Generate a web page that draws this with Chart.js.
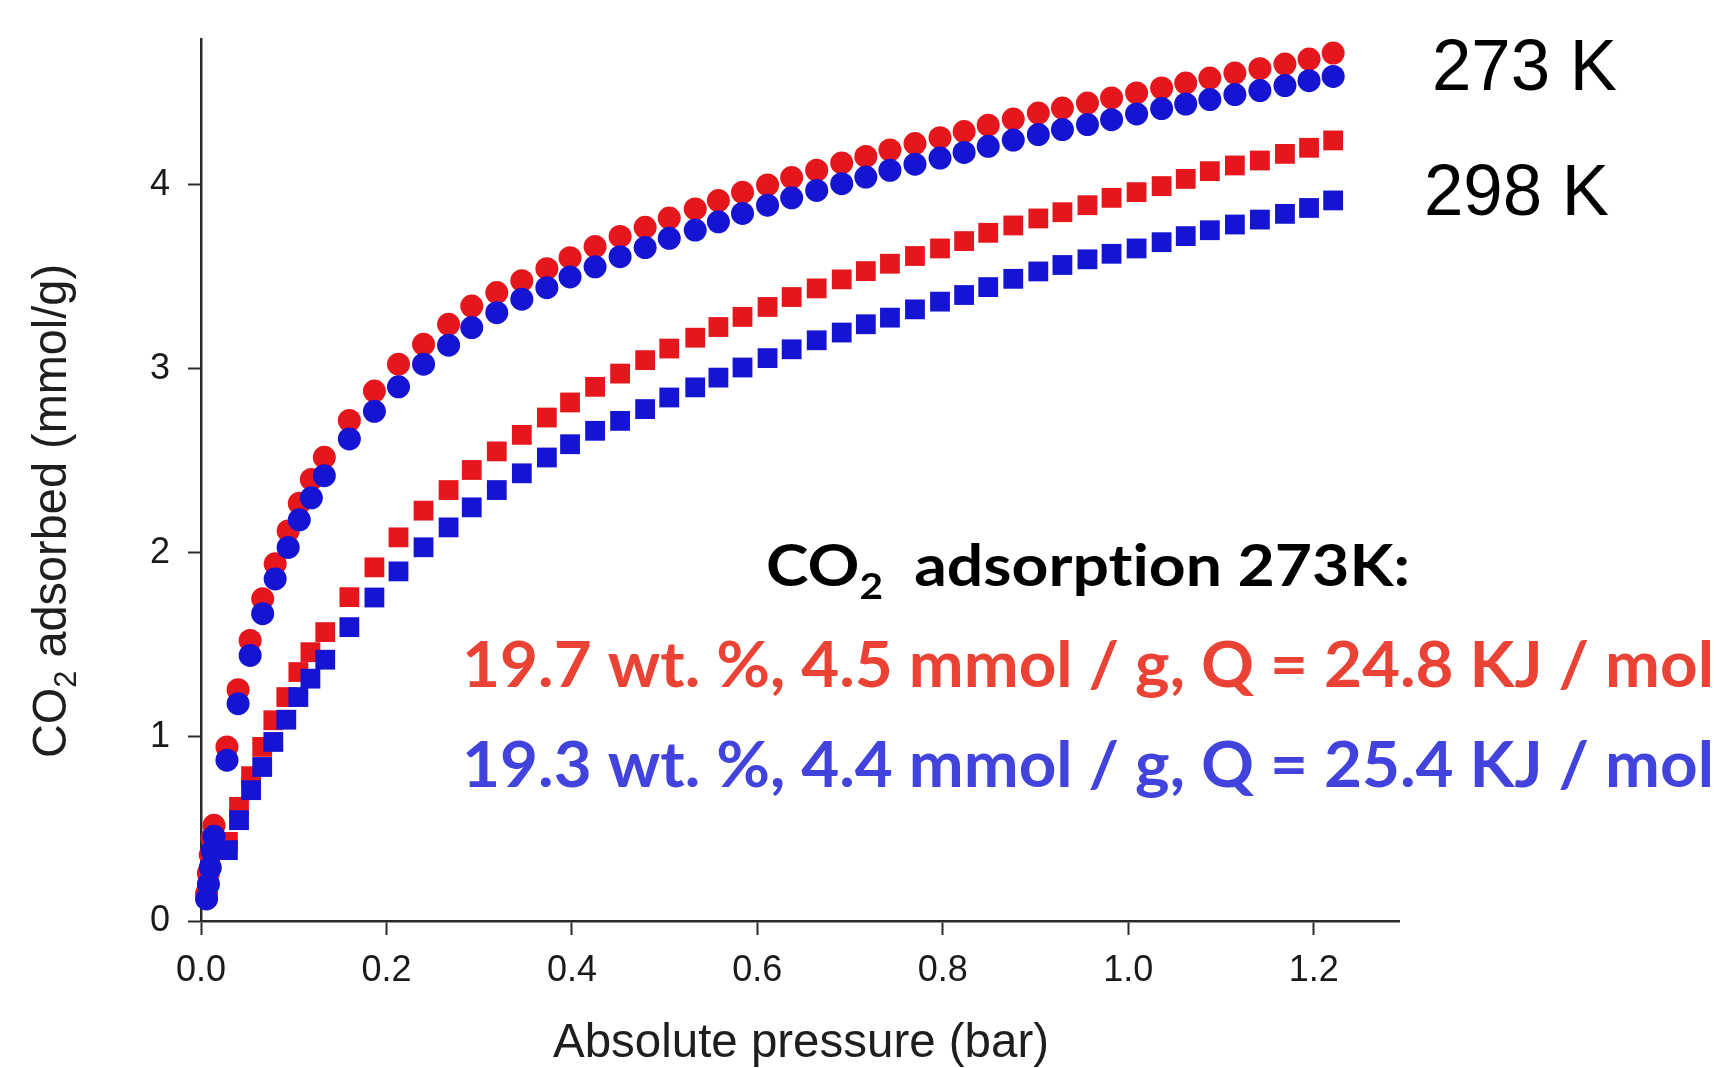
<!DOCTYPE html>
<html><head><meta charset="utf-8">
<script src="https://cdn.jsdelivr.net/npm/chart.js@4.4.1/dist/chart.umd.min.js"></script>
<style>html,body{margin:0;padding:0;background:#fff;overflow:hidden}</style></head>
<body><canvas id="c" width="1723" height="1068"></canvas>
<script>
// ---- data ----
const circlePressure = [0.006,0.008,0.010,0.012,0.014,0.028,0.040,0.053,0.0665,0.080,0.094,0.106,0.119,0.133,
  0.160,0.187,0.213,0.240,0.267,0.292,0.319,0.346,0.373,0.398,0.425,0.452,0.479,0.505,0.533,0.558,0.584,0.611,0.637,0.664,
  0.691,0.717,0.743,0.770,0.797,0.823,0.849,0.876,0.903,0.929,0.956,0.982,1.009,1.036,1.062,1.088,1.115,1.142,1.169,1.195,1.221];
const squarePressure = [0.029,0.041,0.054,0.066,0.078,0.092,0.105,0.118,0.134,
  0.160,0.187,0.213,0.240,0.267,0.292,0.319,0.346,0.373,0.398,0.425,0.452,0.479,0.505,0.533,0.558,0.584,0.611,0.637,0.664,
  0.691,0.717,0.743,0.770,0.797,0.823,0.849,0.876,0.903,0.929,0.956,0.982,1.009,1.036,1.062,1.088,1.115,1.142,1.169,1.195,1.221];
const red273K = [0.15,0.26,0.36,0.45,0.52,0.946,1.257,1.525,1.751,1.941,2.12,2.27,2.40,2.52,
  2.72,2.88,3.026,3.134,3.243,3.342,3.415,3.48,3.545,3.605,3.665,3.72,3.77,3.82,3.87,3.915,3.96,4.0,4.04,4.08,
  4.12,4.155,4.19,4.225,4.257,4.29,4.325,4.358,4.391,4.418,4.445,4.473,4.5,4.527,4.554,4.581,4.608,4.632,4.657,4.684,4.717];
const blue273K = [0.12,0.20,0.29,0.38,0.46,0.874,1.181,1.443,1.670,1.859,2.03,2.18,2.30,2.42,
  2.62,2.77,2.903,3.026,3.129,3.225,3.306,3.379,3.442,3.50,3.555,3.61,3.66,3.71,3.755,3.80,3.845,3.89,3.93,3.97,
  4.007,4.043,4.08,4.113,4.146,4.177,4.21,4.244,4.274,4.301,4.328,4.355,4.386,4.415,4.44,4.464,4.491,4.513,4.54,4.567,4.59];
const red298K = [0.43,0.62,0.787,0.946,1.091,1.217,1.353,1.461,1.570,
  1.760,1.922,2.085,2.230,2.342,2.451,2.552,2.642,2.736,2.818,2.903,2.975,3.048,3.111,3.170,3.228,3.283,3.337,3.391,3.438,
  3.487,3.532,3.572,3.614,3.655,3.695,3.740,3.78,3.818,3.852,3.890,3.930,3.961,3.994,4.033,4.075,4.106,4.133,4.169,4.202,4.242];
const blue298K = [0.385,0.548,0.711,0.837,0.973,1.094,1.217,1.317,1.420,
  1.597,1.758,1.90,2.031,2.139,2.248,2.342,2.433,2.519,2.591,2.664,2.718,2.782,2.845,2.90,2.953,3.008,3.059,3.107,3.156,
  3.198,3.243,3.279,3.324,3.366,3.402,3.445,3.49,3.53,3.565,3.596,3.626,3.655,3.689,3.722,3.754,3.785,3.812,3.843,3.875,3.916];
const xTicks = [0, 0.2, 0.4, 0.6, 0.8, 1.0, 1.2];
const yTicks = [0, 1, 2, 3, 4];
const tempLabels = ['273 K', '298 K'];
const titleText = ['CO', '2', '  adsorpt', 'ion 273K:'];
const redText = '19.7 wt. %, 4.5 mmol / g, Q = 24.8 KJ / mol';
const blueText = '19.3 wt. %, 4.4 mmol / g, Q = 25.4 KJ / mol';
const xTitle = 'Absolute pressure (bar)';
const yTitle = ['CO', '2', ' adsorbed (mmol/g)'];

const RED = '#E6171C', BLUE = '#1414D2';
const pts = (xs, ys) => xs.map((x, i) => ({x: x, y: ys[i]}));
const AX = 'Liberation Sans, Arial, sans-serif';

function drawParts(ctx, parts, left, baseline, targetW) {
  ctx.save();
  let w = 0;
  parts.forEach(p => { ctx.font = p.font; p.w = ctx.measureText(p.t).width; w += p.w; });
  const s = targetW / w;
  ctx.translate(left, baseline);
  ctx.scale(s, 1);
  let x = 0;
  parts.forEach(p => { ctx.font = p.font; ctx.fillStyle = p.color; ctx.textBaseline = 'alphabetic'; ctx.textAlign = 'left'; ctx.fillText(p.t, x, p.dy || 0); x += p.w; });
  ctx.restore();
}

const textPlugin = {
  id: 'texts',
  afterDraw(chart) {
    const ctx = chart.ctx;
    // temperature labels
    drawParts(ctx, [{t: tempLabels[0], font: '72px ' + AX, color: '#000'}], 1432, 90, 185);
    drawParts(ctx, [{t: tempLabels[1], font: '72px ' + AX, color: '#000'}], 1424, 215, 185);
    // bold annotation
    const B = 'Lato, "Open Sans", sans-serif';
    drawParts(ctx, [
      {t: titleText[0], font: 'bold 57px ' + B, color: '#000'},
      {t: titleText[1], font: 'bold 36px ' + B, color: '#000', dy: 13},
      {t: titleText[2], font: 'bold 57px ' + B, color: '#000'},
      {t: titleText[3], font: 'bold 57px ' + B, color: '#000'}], 766, 586, 644);
    drawParts(ctx, [{t: redText, font: 'bold 64px ' + B, color: '#EA4335'}], 462, 687, 1252);
    drawParts(ctx, [{t: blueText, font: 'bold 64px ' + B, color: '#4242DC'}], 462, 787, 1252);
    // x title
    drawParts(ctx, [{t: xTitle, font: '49px ' + AX, color: '#1e1e1e'}], 553, 1057, 496);
    // y title (rotated)
    ctx.save();
    ctx.translate(66, 511);
    ctx.rotate(-Math.PI / 2);
    drawParts(ctx, [
      {t: yTitle[0], font: '49px ' + AX, color: '#1e1e1e'},
      {t: yTitle[1], font: '32px ' + AX, color: '#1e1e1e', dy: 10},
      {t: yTitle[2], font: '49px ' + AX, color: '#1e1e1e'}], -247, 0, 494);
    ctx.restore();
  }
};

new Chart(document.getElementById('c'), {
  type: 'scatter',
  data: {
    datasets: [
      {label: 'blue 273 K', data: pts(circlePressure, blue273K), pointStyle: 'circle', pointRadius: 11.5, backgroundColor: BLUE, borderWidth: 0, order: 1},
      {label: 'red 273 K', data: pts(circlePressure, red273K), pointStyle: 'circle', pointRadius: 11.5, backgroundColor: RED, borderWidth: 0, order: 2},
      {label: 'blue 298 K', data: pts(squarePressure, blue298K), pointStyle: 'rect', pointRadius: 14, backgroundColor: BLUE, borderWidth: 0, order: 3},
      {label: 'red 298 K', data: pts(squarePressure, red298K), pointStyle: 'rect', pointRadius: 14, backgroundColor: RED, borderWidth: 0, order: 4}
    ]
  },
  options: {
    responsive: false, animation: false, events: [],
    clip: false,
    layout: {padding: {top: 38, right: 324, left: 0, bottom: 0}},
    plugins: {legend: {display: false}, tooltip: {enabled: false}},
    scales: {
      x: {
        type: 'linear', min: 0, max: 1.292,
        afterFit: s => { s.height = 147; },
        afterBuildTicks: s => { s.ticks = xTicks.map(v => ({value: v})); },
        border: {display: true, color: '#2a2a2a', width: 2.5},
        grid: {display: true, drawOnChartArea: false, drawTicks: true, tickLength: 14, tickColor: '#2a2a2a', tickWidth: 2},
        ticks: {autoSkip: false, maxRotation: 0, padding: 14, color: '#1a1a1a', font: {family: AX, size: 36}, callback: v => Number(v).toFixed(1)}
      },
      y: {
        type: 'linear', min: 0, max: 4.79,
        afterFit: s => { s.width = 201; },
        afterBuildTicks: s => { s.ticks = yTicks.map(v => ({value: v})); },
        border: {display: true, color: '#2a2a2a', width: 2.5},
        grid: {display: true, drawOnChartArea: false, drawTicks: true, tickLength: 13, tickColor: '#2a2a2a', tickWidth: 2},
        ticks: {autoSkip: false, padding: 18, color: '#1a1a1a', font: {family: AX, size: 36}, callback: v => String(v)}
      }
    }
  },
  plugins: [textPlugin]
});
</script></body></html>
